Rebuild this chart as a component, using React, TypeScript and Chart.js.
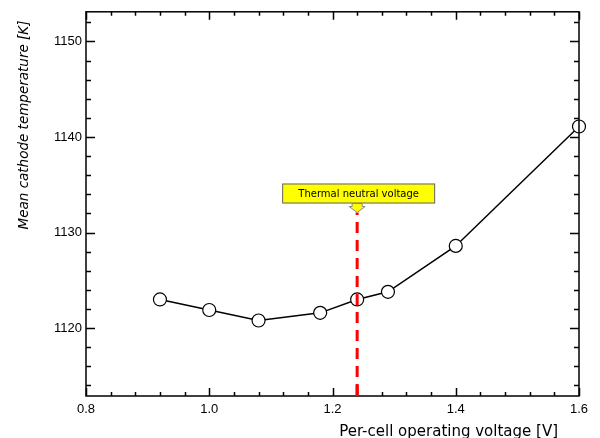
import React, { useEffect, useRef } from "react";
import { Chart, registerables } from "chart.js";

Chart.register(...registerables);

const voltages = [0.92, 1.0, 1.08, 1.18, 1.24, 1.29, 1.4, 1.6];
const temperatures = [1123.0, 1121.9, 1120.8, 1121.6, 1123.0, 1123.8, 1128.6, 1141.1];
const thermalNeutralVoltage = 1.24;
const thermalLineRange = [1113, 1132.1];
const xTicks = [0.8, 1.0, 1.2, 1.4, 1.6];
const yTicks = [1120, 1130, 1140, 1150];
const xTitle = "Per-cell operating voltage [V]";
const yTitle = "Mean cathode temperature [K]";
const calloutText = "Thermal neutral voltage";

const X_MIN = 0.8, X_MAX = 1.6, Y_MIN = 1112.9, Y_MAX = 1153.1;

const decorPlugin = {
  id: "decor",
  afterDraw(chart: any) {
    const ctx = chart.ctx;
    const { left, right, top, bottom } = chart.chartArea;
    const xs = chart.scales.x, ys = chart.scales.y;
    ctx.save();
    ctx.strokeStyle = "#000";
    ctx.lineWidth = 1.5;
    for (let i = 0; i <= 20; i++) {
      const v = X_MIN + i * 0.04;
      const px = Math.round(xs.getPixelForValue(v)) + 0.5;
      const len = i % 5 === 0 ? 8 : 4;
      ctx.beginPath();
      ctx.moveTo(px, bottom); ctx.lineTo(px, bottom - len);
      ctx.moveTo(px, top); ctx.lineTo(px, top + len);
      ctx.stroke();
    }
    for (let v = 1114; v <= 1152; v += 2) {
      const py = Math.round(ys.getPixelForValue(v)) + 0.5;
      const len = v % 10 === 0 ? 9 : 5;
      ctx.beginPath();
      ctx.moveTo(left, py); ctx.lineTo(left + len, py);
      ctx.moveTo(right, py); ctx.lineTo(right - len, py);
      ctx.stroke();
    }
    ctx.lineWidth = 1.5;
    ctx.strokeRect(left, top, right - left, bottom - top);
    const rx = xs.getPixelForValue(thermalNeutralVoltage);
    ctx.strokeStyle = "#ff0000";
    ctx.lineWidth = 3;
    ctx.beginPath();
    ctx.moveTo(rx, bottom - 11); ctx.lineTo(rx, bottom);
    ctx.stroke();
    // callout
    const tipY = ys.getPixelForValue(thermalLineRange[1]);
    const boxH = 20, boxW = 153;
    const boxBottom = tipY - 9;
    const boxTop = boxBottom - boxH;
    const boxLeft = rx - 75;
    ctx.fillStyle = "#ffff00";
    ctx.strokeStyle = "#666";
    ctx.lineWidth = 1;
    ctx.fillRect(boxLeft, boxTop, boxW, boxH);
    ctx.strokeRect(boxLeft + 0.5, boxTop + 0.5, boxW - 1, boxH - 1);
    ctx.beginPath();
    ctx.moveTo(rx - 5, boxBottom);
    ctx.lineTo(rx - 5, boxBottom + 3);
    ctx.lineTo(rx - 8, boxBottom + 3);
    ctx.lineTo(rx, tipY);
    ctx.lineTo(rx + 8, boxBottom + 3);
    ctx.lineTo(rx + 5, boxBottom + 3);
    ctx.lineTo(rx + 5, boxBottom);
    ctx.closePath();
    ctx.fillStyle = "#ffff00";
    ctx.fill();
    ctx.strokeStyle = "#888";
    ctx.stroke();
    ctx.fillStyle = "#000";
    ctx.font = "10px 'DejaVu Sans', sans-serif";
    ctx.textAlign = "center";
    ctx.textBaseline = "middle";
    ctx.fillText(calloutText, boxLeft + boxW / 2, boxTop + boxH / 2 + 1);
    // axis titles
    ctx.fillStyle = "#000";
    ctx.font = "15px 'DejaVu Sans', sans-serif";
    ctx.textAlign = "right";
    ctx.textBaseline = "alphabetic";
    ctx.fillText(xTitle, 558, 436);
    ctx.save();
    ctx.translate(28, 125);
    ctx.rotate(-Math.PI / 2);
    ctx.font = "oblique 13.5px 'DejaVu Sans', sans-serif";
    ctx.textAlign = "center";
    ctx.fillText(yTitle, 0, 0);
    ctx.restore();
    ctx.restore();
  },
};

export default function App() {
  const ref = useRef<HTMLCanvasElement>(null);
  useEffect(() => {
    document.body.style.margin = "0";
    const canvas = ref.current!;
    const chart = new Chart(canvas, {
      type: "scatter",
      data: {
        datasets: [
          {
            data: voltages.map((v, i) => ({ x: v, y: temperatures[i] })),
            showLine: true,
            clip: false,
            borderColor: "#000",
            borderWidth: 1.5,
            pointRadius: 6.5,
            pointBackgroundColor: "#fff",
            pointBorderColor: "#000",
            pointBorderWidth: 1.2,
            order: 1,
          },
          {
            data: thermalLineRange.map((t) => ({ x: thermalNeutralVoltage, y: t })),
            showLine: true,
            borderColor: "#ff0000",
            borderWidth: 3,
            borderDash: [11, 7],
            pointRadius: 0,
            order: 0,
          },
        ],
      },
      options: {
        responsive: false,
        animation: false,
        layout: { padding: { top: 11, right: 21, left: 0, bottom: 0 } },
        plugins: { legend: { display: false }, tooltip: { enabled: false } },
        scales: {
          x: {
            type: "linear",
            min: X_MIN,
            max: X_MAX,
            afterFit: (s: any) => { s.height = 42; },
            afterBuildTicks: (s: any) => { s.ticks = xTicks.map((v) => ({ value: v })); },
            grid: { display: false, drawTicks: false },
            border: { display: false },
            ticks: {
              padding: 6,
              color: "#000",
              font: { family: "'Liberation Sans', Arial, sans-serif", size: 13 },
              callback: (v: any) => Number(v).toFixed(1),
            },
          },
          y: {
            type: "linear",
            min: Y_MIN,
            max: Y_MAX,
            afterFit: (s: any) => { s.width = 86; },
            afterBuildTicks: (s: any) => { s.ticks = yTicks.map((v) => ({ value: v })); },
            grid: { display: false, drawTicks: false },
            border: { display: false },
            ticks: {
              padding: 4,
              color: "#000",
              font: { family: "'Liberation Sans', Arial, sans-serif", size: 13 },
              callback: (v: any) => String(v),
            },
          },
        },
      },
      plugins: [decorPlugin],
    });
    return () => chart.destroy();
  }, []);
  return <canvas ref={ref} width={600} height={438} style={{ display: "block" }} />;
}
